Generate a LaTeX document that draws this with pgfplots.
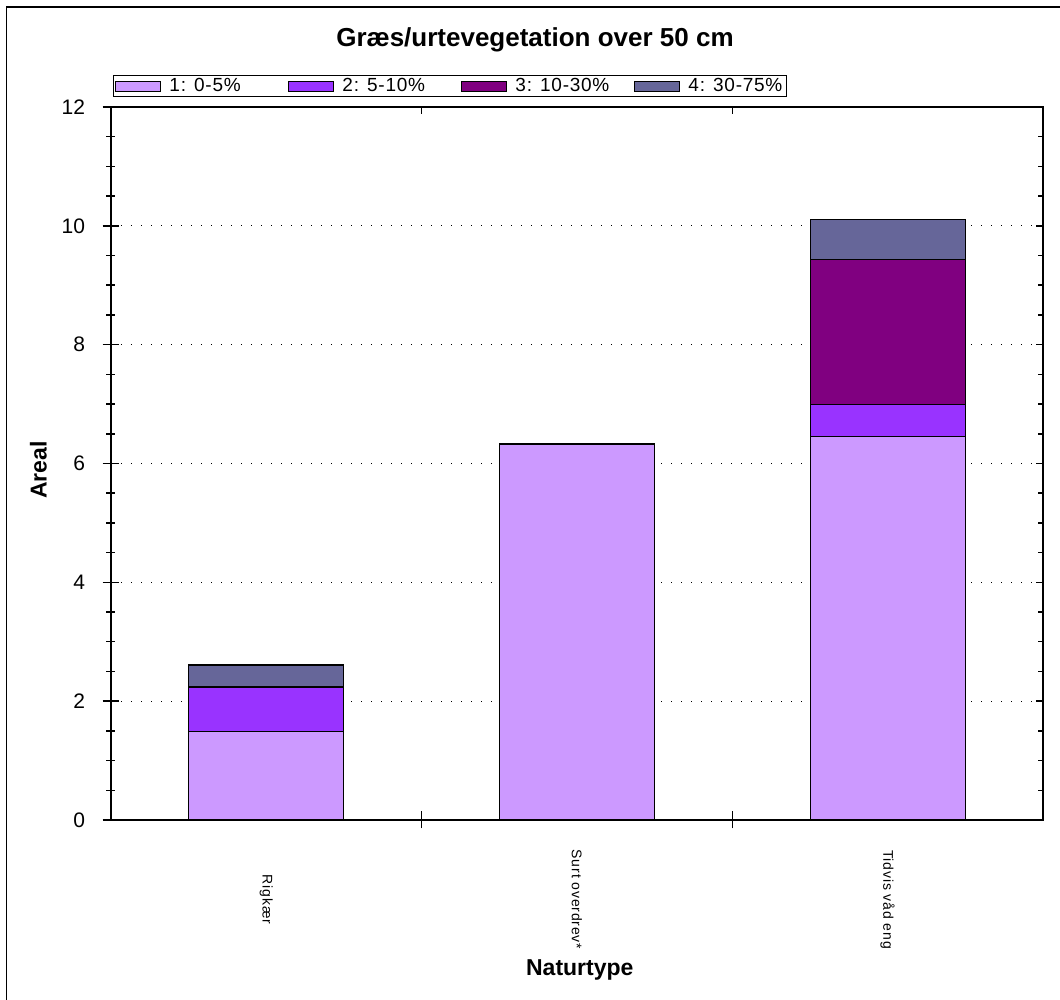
\documentclass[border=0pt]{standalone}
\usepackage{fontspec}
\setmainfont{Liberation Sans}
\newfontfamily\catfont{Liberation Sans}[LetterSpace=6]
\newfontfamily\legfont{Liberation Sans}[LetterSpace=4]
\usepackage{pgfplots}
\pgfplotsset{compat=1.18}
\definecolor{c1}{HTML}{CC99FF}
\definecolor{c2}{HTML}{9933FF}
\definecolor{c3}{HTML}{800080}
\definecolor{c4}{HTML}{666699}
\begin{document}
\begin{tikzpicture}
\path[use as bounding box] (-111pt,-180pt) rectangle (949pt,820pt);
\draw[line width=1.6pt] (-104.5pt,-180pt) -- (-104.5pt,813pt) -- (949pt,813pt);
\node[font=\bfseries\fontsize{26}{26}\selectfont] at (424pt,780pt) {Græs/urtevegetation over 50 cm};
\begin{axis}[
  scale only axis, width=932pt, height=713pt,
  xmin=-0.5, xmax=2.5, ymin=0, ymax=12,
  axis line style={line width=1.5pt},
  ybar stacked, bar width=155pt,
  xtick={0,1,2},
  xticklabels={Rigkær, Surt overdrev*, Tidvis våd eng},
  x tick style={draw=none},
  xtick pos=bottom, ytick pos=left,
  ytick={0,2,...,12},
  minor y tick num=3,
  tick align=center,
  major tick length=17pt, minor tick length=9pt,
  y tick style={line width=1.5pt, black},
  /pgf/number format/assume math mode=true,
  yticklabel style={font=\fontsize{21}{21}\selectfont, xshift=-14pt},
  xticklabel style={yshift=-71pt, rotate=-90, anchor=center, font=\catfont\fontsize{14}{14}\selectfont},
  ymajorgrids, grid style={black, line width=1.3pt, dash pattern=on 1.3pt off 8.7pt},
  xlabel={Naturtype}, ylabel={Areal},
  xlabel style={at={(axis description cs:0.503,-0.210)}, anchor=center, font=\bfseries\fontsize{23}{23}\selectfont},
  ylabel style={at={(axis description cs:-0.078,0.491)}, anchor=center, rotate=0, font=\bfseries\fontsize{23}{23}\selectfont},
  legend columns=4,
  legend style={at={(0.002,1)}, anchor=south west, yshift=10pt, draw=black, line width=1.2pt,
    inner xsep=2pt, inner ysep=1pt, font=\legfont\fontsize{19}{19}\selectfont,
    /tikz/every even column/.append style={column sep=0pt}},
  legend image code/.code={\draw[#1, draw=black, line width=1pt] (2pt,-5pt) rectangle (47pt,5pt);},
  every axis plot/.append style={draw=black, line width=1.3pt},
]
\addplot[fill=c1] coordinates {(0,1.49) (1,6.33) (2,6.46)};
\addlegendentry{\hspace{6pt}\makebox[117pt][l]{1: 0-5\%}}
\addplot[fill=c2] coordinates {(0,0.75) (1,0) (2,0.53)};
\addlegendentry{\hspace{6pt}\makebox[117pt][l]{2: 5-10\%}}
\addplot[fill=c3] coordinates {(0,0) (1,0) (2,2.44)};
\addlegendentry{\hspace{6pt}\makebox[117pt][l]{3: 10-30\%}}
\addplot[fill=c4] coordinates {(0,0.37) (1,0) (2,0.68)};
\addlegendentry{\hspace{6pt}4: 30-75\%\hspace{2pt}}
\end{axis}
\begin{axis}[
  scale only axis, width=932pt, height=713pt,
  xmin=-0.5, xmax=2.5, ymin=0, ymax=12,
  axis line style={draw=none},
  xtick={0.5,1.5}, ytick=\empty,
  xticklabels={},
  xtick pos=bottom, tick align=center,
  major tick length=17pt,
  x tick style={line width=1.5pt, black},
]
\end{axis}
\begin{axis}[
  scale only axis, width=932pt, height=713pt,
  xmin=-0.5, xmax=2.5, ymin=0, ymax=12,
  axis line style={draw=none},
  xtick={0.5,1.5}, ytick={0,2,...,12}, minor y tick num=3,
  xticklabels={}, yticklabels={},
  xtick pos=top, ytick pos=right, tick align=inside,
  major tick length=7pt, minor tick length=5pt,
  tick style={line width=1.5pt, black},
]
\end{axis}
\end{tikzpicture}
\end{document}
